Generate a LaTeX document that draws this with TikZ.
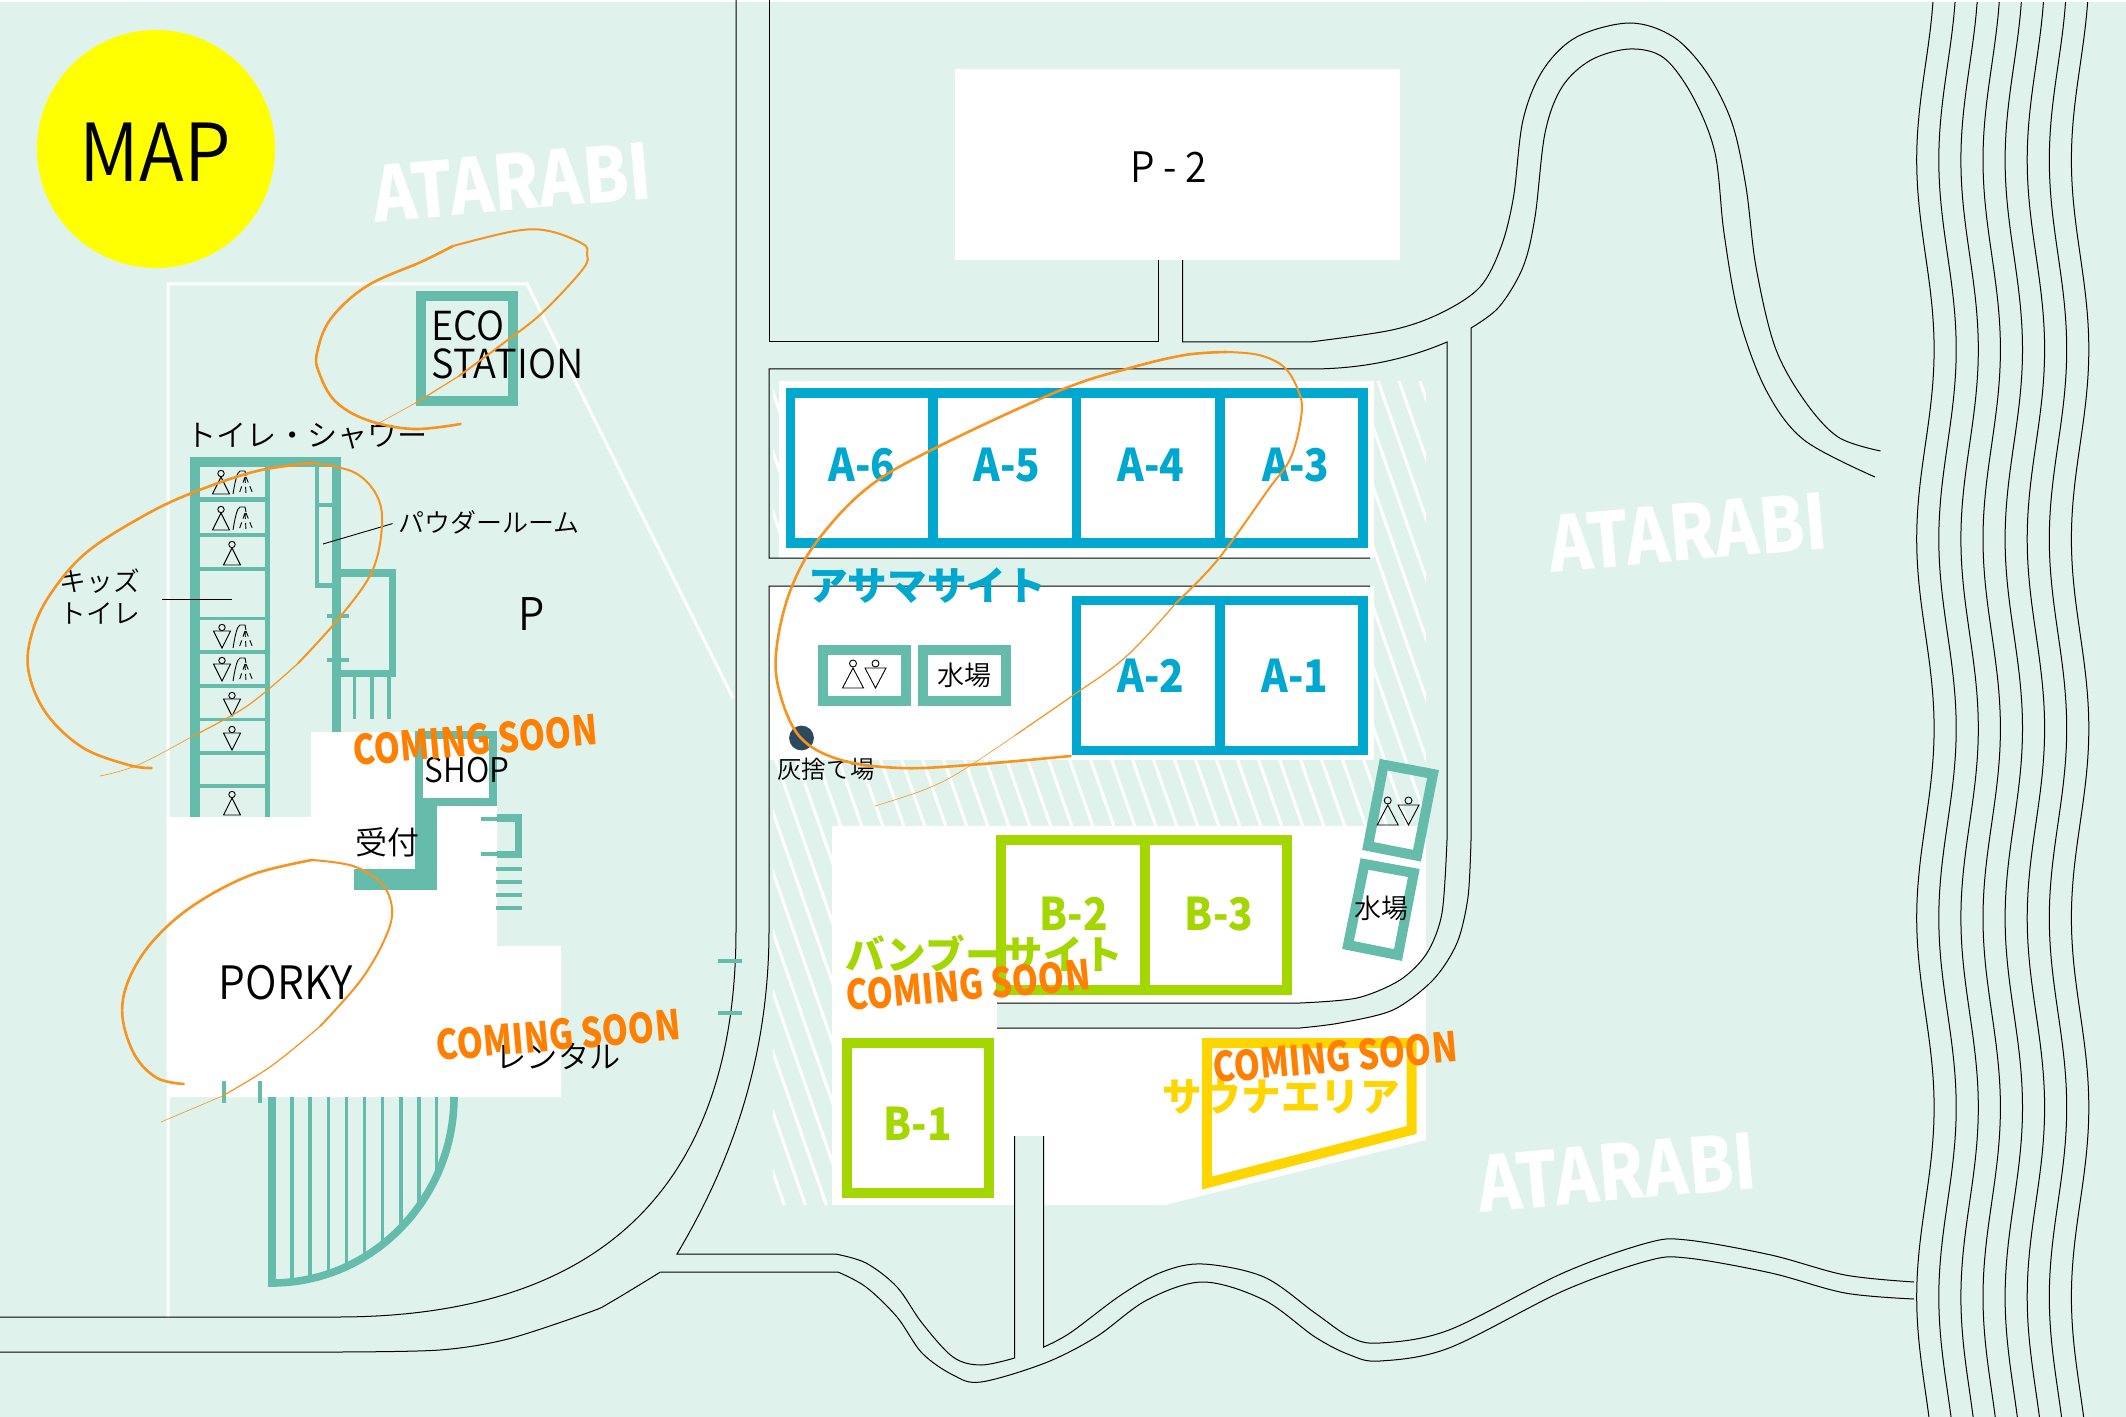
\documentclass[tikz,border=0pt]{standalone}
\usepackage{fontspec}
\newfontfamily\ja{Noto Sans CJK JP}
\newfontfamily\jl{Noto Sans CJK JP DemiLight}
\definecolor{bgc}{HTML}{DFF3EC}
\definecolor{teal}{HTML}{66BCAB}
\definecolor{blu}{HTML}{00A7CE}
\definecolor{grn}{HTML}{A4D600}
\definecolor{yel}{HTML}{FFD500}
\definecolor{ora}{HTML}{FF7F00}
\definecolor{scr}{HTML}{F7931E}
\definecolor{ashc}{HTML}{2C4A5E}
\definecolor{mapy}{RGB}{255,255,0}
\tikzset{
 rd/.style={draw=black,line width=.5pt,line join=miter},
 tw/.style={fill=teal,draw=none},
 wall/.style={draw=teal,line width=5pt,line join=miter},
 bwall/.style={draw=blu,line width=4.8pt,line join=miter},
 gwall/.style={draw=grn,line width=5pt,line join=miter},
 ywall/.style={draw=yel,line width=5pt,line join=miter},
 ic/.style={draw=black,line width=.45pt},
 lbl/.style={inner sep=0pt,text=black,font=\jl\fontsize{#1}{#1}\selectfont},
 lat/.style={lbl=#1,xscale=.93,transform shape},
 bd/.style={inner sep=0pt,font=\ja\bfseries\fontsize{#1}{#1}\selectfont},
 site/.style={bd=22.5,text=blu,xscale=.9,transform shape},
 bsite/.style={bd=22.5,text=grn,xscale=.9,transform shape},
 soon/.style={bd=20.5,text=ora,xscale=.815,transform shape},
 logo/.style={bd=38,text=white,xscale=.87,transform shape},
 sc1/.style={draw=scr,line width=1.3pt,line cap=round},
 sc2/.style={draw=scr,line width=1pt,line cap=round},
 sc3/.style={draw=scr,line width=.6pt,line cap=round},
 sc4/.style={draw=scr,line width=.3pt,line cap=round},
}
\newcommand{\icoM}[2]{\draw[ic] (#1,#2+3.5) circle[radius=3.2]; \draw[ic] (#1-8.5,#2+24)--(#1+8.5,#2+24)--(#1,#2+7)--cycle;}
\newcommand{\icoF}[2]{\draw[ic] (#1,#2+3.5) circle[radius=3.2]; \draw[ic] (#1-8.5,#2+7)--(#1+8.5,#2+7)--(#1,#2+24)--cycle;}
\newcommand{\icoMb}[2]{\draw[ic] (#1,#2+3.5) circle[radius=3.5]; \draw[ic] (#1-10.5,#2+28)--(#1+10.5,#2+28)--(#1,#2+8)--cycle;}
\newcommand{\icoFb}[2]{\draw[ic] (#1,#2+3.5) circle[radius=3.5]; \draw[ic] (#1-10.5,#2+8)--(#1+10.5,#2+8)--(#1,#2+28)--cycle;}
\newcommand{\icoS}[2]{\draw[ic] (#1-10,#2+24) .. controls (#1-8,#2+12) and (#1-6,#2+2) .. (#1-3,#2+1)--(#1+2,#2+1)--(#1+3,#2+6);
 \draw[ic,densely dashed] (#1+2,#2+7)--(#1-4,#2+24) (#1+2,#2+7)--(#1+3,#2+24) (#1+3,#2+7)--(#1+10,#2+24);}
\begin{document}
\begin{tikzpicture}[x=.5pt,y=-.5pt]
\useasboundingbox (0,0) rectangle (2126,1417);
\fill[white] (0,0) rectangle (2126,1417);
\fill[bgc] (0,2) rectangle (2126,1417);
% hatching
\begin{scope}
\clip (773,381) -- (1426,381) -- (1426,826) -- (832,826) -- (832,1205) -- (773,1205) -- cycle;
\foreach \k in {-16,...,32}
 \draw[white,line width=1.5pt] ({769+\k*21},381) -- ({769+\k*21+0.35*824},1205);
\end{scope}
\fill[bgc] (769,558) rectangle (1376,586);
% white grounds
\fill[white] (779,381) rectangle (1373.6,558);
\fill[white] (769,586) rectangle (1373.6,760);
\fill[white] (832,826) -- (1426,826) -- (1426,1140) -- (1165,1205) -- (832,1205) -- cycle;
\fill[white] (955,69) rectangle (1400,260);
\draw[white,line width=1.5pt] (168,1317) -- (168,284) -- (527,284) -- (733,698);
\fill[white] (168,817) -- (311,817) -- (311,732) -- (497,732) -- (497,946) -- (561,946) -- (561,1097) -- (168,1097) -- cycle;
% road bands over white
\fill[bgc] (997,1003) -- plot[smooth,tension=.5] coordinates {(1300,1003) (1357,998) (1400,980) (1427,953) (1442,913) (1447,840) (1447,826)} -- (1471,826) -- plot[smooth,tension=.5] coordinates {(1471,840) (1468,897) (1457,943) (1433,980) (1393,1010) (1340,1023) (1300,1028)} -- (997,1028) -- cycle;
\fill[bgc] (1014.6,1136) rectangle (1043.7,1206);
% roads
\draw[rd] (736,0) -- (736,930) .. controls (736,1140) and (645,1317) .. (337,1317) -- (0,1317);
\draw[rd] (0,1352) -- plot[smooth,tension=.5] coordinates {(340,1352) (440,1350) (508,1339) (590,1312) (611,1302) (660.5,1272)};
\draw[rd] (769,0) -- (769,342) -- (1158,342) -- (1158,260);
\draw[rd] (1182.5,260) -- (1182.5,342) -- (1310,342) -- plot[smooth,tension=.55] coordinates {(1310,342) (1392,330) (1441,313) (1480,287) (1501,247) (1513.5,197) (1523,120) (1543,70) (1576.6,37) (1630,23) (1673.5,37) (1707,73) (1732,123) (1746,187) (1756,267) (1775,347) (1804,400) (1838,437) (1880.5,451)};
\draw[rd] (1471,840) -- (1471,328) -- plot[smooth,tension=.55] coordinates {(1471,328) (1499,307) (1523,267) (1535,217) (1545,133) (1562,87) (1591,60) (1630,49) (1664,58) (1693,97) (1715,153) (1724,233) (1739,317) (1766,390) (1804,440) (1875,477)};
\draw[rd] (997,1028) -- plot[smooth,tension=.5] coordinates {(1300,1028) (1340,1023) (1393,1010) (1433,980) (1457,943) (1468,897) (1471,840)};
\draw[rd] (1370,558) -- (769,558) -- (769,369) -- (1310,369) .. controls (1360,369) and (1405,360) .. (1447,342) -- (1447,840) -- plot[smooth,tension=.5] coordinates {(1447,840) (1442,913) (1427,953) (1400,980) (1357,998) (1300,1003)} -- (997,1003);
\draw[rd] (1370,586) -- (769,586) -- (769,930) .. controls (769,1060) and (730,1165) .. (677,1254) -- (835.5,1254) -- plot[smooth,tension=.55] coordinates {(835.5,1254) (866,1263) (897,1287) (922,1323) (953,1357) (981,1365) (1014.6,1358)} -- (1014.6,1136);
\draw[rd] (1043.7,1136) -- (1043.7,1347) -- plot[smooth,tension=.55] coordinates {(1043.7,1347) (1070,1333) (1121,1295) (1162,1272) (1203,1264) (1264,1277) (1315,1313) (1350,1337) (1380,1343) (1449,1330) (1563,1273) (1647,1243) (1687,1240) (1771,1255) (1845,1275) (1914,1282)};
\draw[rd] (660.5,1272) -- (838,1272) -- plot[smooth,tension=.55] coordinates {(838,1272) (866,1287) (897,1317) (922,1353) (953,1375) (981,1382) (1045,1363) (1096,1337) (1147,1300) (1203,1282) (1264,1300) (1315,1337) (1350,1355) (1380,1361) (1449,1348) (1563,1291) (1647,1261) (1687,1258) (1771,1273) (1845,1293) (1914,1299)};
\foreach \i in {0,...,7}
 \draw[rd] plot[domain=2:1417,samples=130,smooth,variable=\yy] ({1925.4+\i*22.1-8.7*cos(0.94987*(\yy-160))},\yy);
% MAP
\fill[mapy] (156,149) circle[radius=119];
\node[lbl=40,xscale=.93,transform shape] (map) at (155,152) {MAP};
% ECO
\draw[wall] (420.5,296) rectangle (512.5,401);
% toilet block
\fill[tw] (190,457) rectangle (341,467);
\fill[tw] (190,457) rectangle (200,817);
\fill[tw] (265,457) rectangle (270,817);
\fill[tw] (331.5,457) rectangle (341,732);
\foreach \a/\b in {497/502,533/537,567/571,617/620,650/654,684/688,718/721,751/755,784/788}
 \fill[tw] (200,\a) rectangle (265,\b);
\fill[tw] (314.5,467) rectangle (319,588);
\fill[tw] (314.5,583) rectangle (331.5,588);
\fill[tw] (319,503) rectangle (331.5,507);
\draw[teal,line width=3.8pt,line join=miter] (341,573) -- (392.5,573) -- (392.5,673.5) -- (341,673.5);
\fill[tw] (327,613.5) rectangle (349,617.5);
\fill[tw] (327,658) rectangle (349,662);
\foreach \x in {354.5,372,389} \fill[tw] (\x-1.9,677) rectangle (\x+1.9,719);
% icons in block
\icoM{221}{470}\icoS{243}{470}
\icoM{221}{506}\icoS{243}{506}
\icoM{232}{541}
\icoF{222}{624}\icoS{243}{624}
\icoF{222}{657}\icoS{243}{657}
\icoF{232}{692}
\icoF{232}{726}
\icoM{232}{791}
% shop + reception
\draw[teal,line width=4pt,line join=miter] (419,734.5) rectangle (492.5,801.5);
\fill[tw] (415,798) rectangle (497,806);
\fill[tw] (415,798) rectangle (437,890);
\fill[tw] (354,869) rectangle (437,890);
% stairs
\fill[tw] (497,814) rectangle (522,822);
\fill[tw] (515,814) rectangle (522,858);
\fill[tw] (497,851) rectangle (522,858);
\fill[tw] (481,816.5) rectangle (497,821);
\fill[tw] (481,852) rectangle (497,856);
\foreach \a/\b in {866.5/871,880/884,893/897,906/910} \fill[tw] (496,\a) rectangle (522,\b);
% fan
\begin{scope}
\clip (272,1097) -- (272,1283) .. controls (372,1283) and (454,1199) .. (454,1097) -- cycle;
\foreach \x in {292,310,328.6,346.5,364.5,382.4,401,419,436.7}
 \fill[tw] (\x-1.7,1097) rectangle (\x+1.7,1290);
\end{scope}
\draw[teal,line width=3.8pt,line join=miter] (272,1097) -- (272,1283) .. controls (372,1283) and (454,1199) .. (454,1097);
\fill[tw] (222,1081) rectangle (226,1103);
\fill[tw] (257.6,1081) rectangle (261.6,1103);
\fill[tw] (718,958.5) rectangle (742,962.5);
\fill[tw] (718,1011) rectangle (742,1015);
% A blocks
\draw[bwall] (790.5,393) rectangle (1363,543);
\foreach \x in {933,1076.5,1220} \draw[bwall] (\x,393) -- (\x,543);
\draw[bwall] (1076.5,600.5) rectangle (1363,750.5);
\draw[bwall] (1220,600.5) -- (1220,750.5);
% toilet / water
\draw[wall] (822.5,650) rectangle (905.5,701);
\draw[wall] (923,650) rectangle (1006,701);
\icoMb{853}{660}
\icoFb{875.5}{660}
\fill[ashc] (801.5,738) circle[radius=12.4];
% B blocks
\draw[gwall] (1001,840) rectangle (1287,990);
\draw[gwall] (1144.5,840) -- (1144.5,990);
\draw[gwall] (846.5,1043) rectangle (989,1193);
% sauna
\draw[ywall] (1207,1043) -- (1411.5,1043) -- (1411.5,1130) -- (1207,1183) -- cycle;
% tilted boxes
\draw[wall] (1383.7,764.7) -- (1433,774) -- (1417,855.7) -- (1368,846) -- cycle;
\draw[wall] (1364.5,864) -- (1413.8,873) -- (1398,955) -- (1348,945) -- cycle;
\icoMb{1387.7}{797}
\icoFb{1408.5}{797}
% leaders
\draw[black,line width=.45pt] (392.5,523.6) -- (323,544);
\draw[black,line width=.45pt] (162,599) -- (232,599);
% labels
\node[inner sep=0pt,align=left,anchor=north west,xscale=.95,transform shape,font=\jl\fontsize{20}{19}\selectfont] (eco) at (431,310) {ECO\\STATION};
\node[lbl=15.1,anchor=west] (wc) at (186,436) {トイレ・シャワー};
\node[lbl=13,anchor=west] (pw) at (398,522) {パウダールーム};
\node[inner sep=0pt,align=center,font=\jl\fontsize{13.4}{16}\selectfont] (kid) at (100,597) {キッズ\\トイレ};
\node[lat=22.5] (pk) at (532,614) {P};
\node[lat=17] (sh) at (467,770) {SHOP};
\node[lbl=16] (rc) at (387,842) {受付};
\node[lat=23] (pr) at (286,983) {PORKY};
\node[lbl=15.6] (rn) at (558,1056) {レンタル};
\node[lat=21] (p2) at (1169,167) {P - 2};
\node[lbl=13.5] (ws) at (964,675) {水場};
\node[lbl=13.5] (ws2) at (1381,908) {水場};
\node[lbl=12.2] (ash) at (826,769) {灰捨て場};
% site labels
\node[site] (a6) at (862,465) {A-6};
\node[site] (a5) at (1007,465) {A-5};
\node[site] (a4) at (1151,465) {A-4};
\node[site] (a3) at (1296,465) {A-3};
\node[site] (a2) at (1151,676) {A-2};
\node[site] (a1) at (1295,676) {A-1};
\node[bsite] (b2) at (1074,914) {B-2};
\node[bsite] (b3) at (1219,914) {B-3};
\node[bsite] (b1) at (918,1124) {B-1};
\node[bd=19.8,text=blu] (asama) at (927,586) {アサマサイト};
\node[bd=19.8,text=grn] (bamb) at (984,954) {バンブーサイト};
\node[bd=19.8,text=yel] (sauna) at (1281,1097) {サウナエリア};
\node[rotate=5,soon] (cs1) at (475,740) {COMING SOON};
\node[rotate=5,soon] (cs2) at (558,1035) {COMING SOON};
\node[rotate=5,soon] (cs3) at (968,985) {COMING SOON};
\node[rotate=5,soon] (cs4) at (1335,1057) {COMING SOON};
\node[rotate=5,logo] (l1) at (512,182) {ATARABI};
\node[rotate=5,logo] (l2) at (1688,532) {ATARABI};
\node[rotate=5,logo] (l3) at (1617,1172) {ATARABI};
% scribbles
\draw[sc1] plot[smooth,tension=.6] coordinates {(460.5,424) (413,429) (367,420) (335,401) (319,372.5) (317,353) (330.6,319) (367,286) (422,261.5) (453,246)};
\draw[sc2] plot[smooth,tension=.6] coordinates {(453,246) (515,231) (549,231) (583,244) (587,254) (583,269) (542,313) (505,342) (459,376)};
\draw[sc3] plot[smooth,tension=.6] coordinates {(459,376) (415.5,403)};
\draw[sc4] plot[smooth,tension=.6] coordinates {(415.5,403) (381,422) (374,426)};
\draw[sc1] plot[smooth,tension=.6] coordinates {(151.5,768) (128.6,765) (82.6,747.5) (46,713) (28.5,671) (32,633) (50.5,594) (87,552) (147,514) (197,491) (257,471) (312,463)};
\draw[sc2] plot[smooth,tension=.6] coordinates {(312,463) (353.5,472) (376.5,495) (382,525.5) (372,571.5) (340,617) (298.4,663)};
\draw[sc3] plot[smooth,tension=.6] coordinates {(298.4,663) (248,705.4) (193,736)};
\draw[sc4] plot[smooth,tension=.6] coordinates {(193,736) (138,765) (100,776)};
\draw[sc1] plot[smooth,tension=.6] coordinates {(183.7,1084) (157,1078) (134.7,1055) (122.4,1016) (128.6,980) (153,941) (194,905) (251,875) (312,860)};
\draw[sc2] plot[smooth,tension=.6] coordinates {(312,860) (353,866) (381.6,883.6) (392,908.6) (385.7,937) (361,980) (320.4,1026)};
\draw[sc3] plot[smooth,tension=.6] coordinates {(320.4,1026) (271.4,1066) (222.4,1096)};
\draw[sc4] plot[smooth,tension=.6] coordinates {(222.4,1096) (161,1122)};
\draw[sc1] plot[smooth,tension=.6] coordinates {(1070.6,756) (969.6,765) (900.7,768) (841,760) (800,737) (779,690) (776.7,647) (790.5,590) (818,540) (868.6,487) (937.4,447) (1061,390) (1130,368) (1185,355) (1226.7,352)};
\draw[sc2] plot[smooth,tension=.6] coordinates {(1226.7,352) (1259,355) (1284,367) (1298,390) (1301.6,413) (1291,457) (1268,490) (1217.5,560) (1176,603)};
\draw[sc3] plot[smooth,tension=.6] coordinates {(1176,603) (1125.7,657) (1070.6,697) (1015.5,735)};
\draw[sc4] plot[smooth,tension=.6] coordinates {(1015.5,735) (960,772) (923.6,790) (875,806)};
\end{tikzpicture}
\end{document}
